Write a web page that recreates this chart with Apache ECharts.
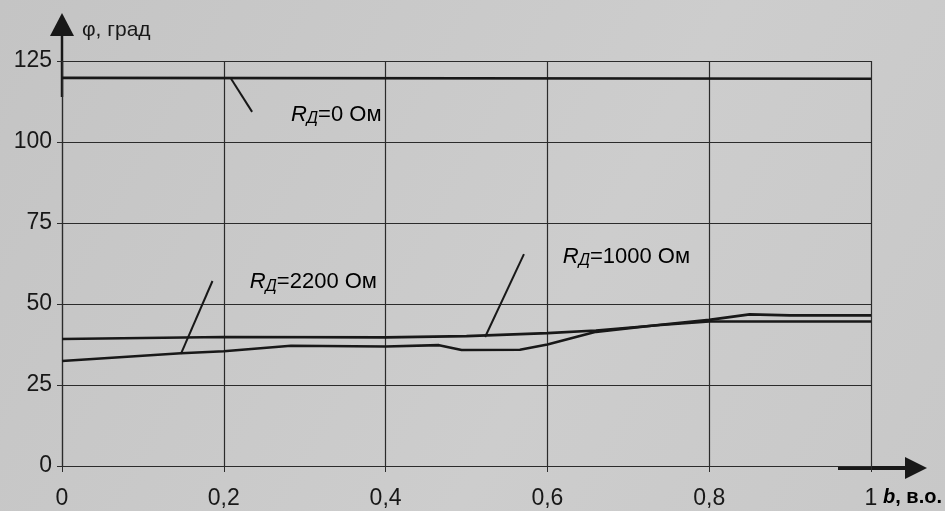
<!DOCTYPE html>
<html>
<head>
<meta charset="utf-8">
<script src="https://cdn.jsdelivr.net/npm/echarts@6/dist/echarts.min.js"></script>
<style>
  html, body { margin: 0; padding: 0; }
  #main { width: 945px; height: 511px; }
</style>
</head>
<body>
<div id="main"></div>
<script>
// ось b, в.о.
var bTicks = [0, 0.2, 0.4, 0.6, 0.8, 1];
var phiTicks = [0, 25, 50, 75, 100, 125];

// R_Д = 0 Ом
var b0 = [0, 1];
var phi0 = [119.8, 119.5];

// R_Д = 1000 Ом
var b1000 = [0, 0.2, 0.4, 0.5, 0.6, 0.66, 0.74, 0.8, 0.9, 1];
var phi1000 = [39.2, 39.8, 39.7, 40.1, 41.0, 41.8, 43.5, 44.6, 44.6, 44.6];

// R_Д = 2200 Ом
var b2200 = [0, 0.147, 0.2, 0.283, 0.4, 0.466, 0.494, 0.566, 0.6, 0.66, 0.74, 0.8, 0.85, 0.9, 1];
var phi2200 = [32.4, 34.8, 35.4, 37.1, 36.9, 37.3, 35.8, 35.9, 37.5, 41.4, 43.6, 45.1, 46.8, 46.5, 46.5];

// подписи кривых: [текст, точка на кривой, конец выноски, левый край подписи]
var notes = [
    ['0', [0.209, 119.5], [0.235, 109.3], [0.283, 108.5]],
    ['2200', [0.147, 34.6], [0.186, 57.1], [0.232, 56.7]],
    ['1000', [0.523, 39.8], [0.571, 65.4], [0.619, 64.5]]
];

function pairs(xs, ys) {
    return xs.map(function (x, i) { return [x, ys[i]]; });
}

var ink = '#181818';
var gridInk = '#2b2b2b';
var font = '"Liberation Sans", Arial, sans-serif';

var myChart = echarts.init(document.getElementById('main'));

var option = {
    backgroundColor: new echarts.graphic.LinearGradient(0, 0, 1, 1, [
        { offset: 0, color: '#c4c4c4' },
        { offset: 0.6, color: '#cdcdcd' },
        { offset: 1, color: '#c8c8c8' }
    ]),
    animation: false,
    grid: { left: 62, right: 74, top: 61, bottom: 45 },
    xAxis: {
        type: 'value',
        min: bTicks[0],
        max: bTicks[bTicks.length - 1],
        interval: 0.2,
        axisLine: { show: true, lineStyle: { color: gridInk, width: 1.2 } },
        axisTick: { show: true, length: 6, lineStyle: { color: gridInk } },
        splitLine: { show: true, lineStyle: { color: gridInk, width: 1.2 } },
        axisLabel: {
            color: ink, fontSize: 23, fontFamily: font, margin: 21,
            formatter: function (v) { return String(+v.toFixed(1)).replace('.', ','); }
        }
    },
    yAxis: {
        type: 'value',
        min: phiTicks[0],
        max: phiTicks[phiTicks.length - 1],
        interval: 25,
        axisLine: { show: true, lineStyle: { color: gridInk, width: 1.2 } },
        axisTick: { show: true, length: 5, lineStyle: { color: gridInk } },
        splitLine: { show: true, lineStyle: { color: gridInk, width: 1.2 } },
        axisLabel: { color: ink, fontSize: 23, fontFamily: font, margin: 10 }
    },
    series: [
        {
            name: 'R=0', type: 'line', data: pairs(b0, phi0), symbol: 'none',
            lineStyle: { color: ink, width: 2.6 }
        },
        {
            name: 'R=1000', type: 'line', data: pairs(b1000, phi1000), symbol: 'none',
            lineStyle: { color: ink, width: 2.6 }
        },
        {
            name: 'R=2200', type: 'line', data: pairs(b2200, phi2200), symbol: 'none',
            lineStyle: { color: ink, width: 2.6 }
        }
    ]
};

myChart.setOption(option);

// стрелки осей, выноски и подписи
var pO = myChart.convertToPixel({ gridIndex: 0 }, [0, 0]);
var pTop = myChart.convertToPixel({ gridIndex: 0 }, [0, phiTicks[phiTicks.length - 1]]);
var pRight = myChart.convertToPixel({ gridIndex: 0 }, [bTicks[bTicks.length - 1], 0]);

var rich = {
    i: { fontSize: 22, fontStyle: 'italic', fontFamily: font, color: ink, lineHeight: 24, verticalAlign: 'middle' },
    s: { fontSize: 16, fontStyle: 'italic', fontFamily: font, color: ink, lineHeight: 15, verticalAlign: 'bottom' },
    n: { fontSize: 22, fontFamily: font, color: ink, lineHeight: 24, verticalAlign: 'middle' }
};

var graphics = [
    // ось φ
    { type: 'line', shape: { x1: pO[0], y1: pTop[1] + 36, x2: pO[0], y2: pTop[1] - 30 },
      style: { stroke: ink, lineWidth: 2.5 } },
    { type: 'polygon', shape: { points: [[pO[0], pTop[1] - 48], [pO[0] - 12, pTop[1] - 25], [pO[0] + 12, pTop[1] - 25]] },
      style: { fill: ink } },
    { type: 'text', x: pO[0] + 20, y: pTop[1] - 31,
      style: { text: 'φ, град', font: '21px ' + font, fill: ink, verticalAlign: 'middle' } },
    // ось b
    { type: 'line', shape: { x1: pRight[0] - 33, y1: pO[1] + 2, x2: pRight[0] + 36, y2: pO[1] + 2 },
      style: { stroke: ink, lineWidth: 4 } },
    { type: 'polygon', shape: { points: [[pRight[0] + 56, pO[1] + 2], [pRight[0] + 34, pO[1] - 9], [pRight[0] + 34, pO[1] + 13]] },
      style: { fill: ink } },
    { type: 'text', x: pRight[0] + 12, y: pO[1] + 31,
      style: {
          text: '{b|b}{n|, в.о.}', verticalAlign: 'middle',
          rich: {
              b: { fontSize: 20, fontWeight: 'bold', fontStyle: 'italic', fontFamily: font, color: ink },
              n: { fontSize: 20, fontWeight: 'bold', fontFamily: font, color: ink }
          }
      } }
];

notes.forEach(function (n) {
    var p1 = myChart.convertToPixel({ gridIndex: 0 }, n[1]);
    var p2 = myChart.convertToPixel({ gridIndex: 0 }, n[2]);
    var p3 = myChart.convertToPixel({ gridIndex: 0 }, n[3]);
    graphics.push({ type: 'line', shape: { x1: p1[0], y1: p1[1], x2: p2[0], y2: p2[1] },
        style: { stroke: ink, lineWidth: 2 } });
    graphics.push({ type: 'text', x: p3[0], y: p3[1],
        style: { text: '{i|R}{s|Д}{n|=' + n[0] + ' Ом}', rich: rich, verticalAlign: 'middle' } });
});

myChart.setOption({ graphic: graphics });
</script>
</body>
</html>
